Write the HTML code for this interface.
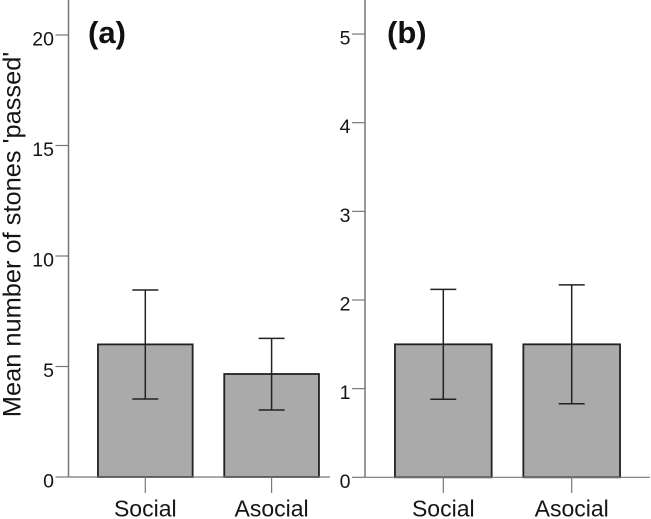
<!DOCTYPE html>
<html>
<head>
<meta charset="utf-8">
<style>
html,body{margin:0;padding:0;background:#fff;width:651px;height:519px;overflow:hidden}
svg{display:block}
text{font-family:"Liberation Sans",Arial,sans-serif;fill:#151515}
</style>
</head>
<body>
<svg id="chart" xmlns="http://www.w3.org/2000/svg" width="651" height="519" viewBox="0 0 651 519">
  <text transform="translate(20.5,234.5) rotate(-90)" text-anchor="middle" font-size="25.4">Mean number of stones 'passed'</text>
  <text x="88" y="43" font-size="31" font-weight="bold" style="fill:#111">(a)</text>
  <text x="387" y="43" font-size="31" font-weight="bold" style="fill:#111">(b)</text>
</svg>
<script>
const categories = ['Social', 'Asocial'];
const meansA = [6.0, 4.66];
const upperA = [8.46, 6.27];
const lowerA = [3.53, 3.03];
const ticksA = [0, 5, 10, 15, 20];
const meansB = [1.5, 1.5];
const upperB = [2.12, 2.17];
const lowerB = [0.88, 0.83];
const ticksB = [0, 1, 2, 3, 4, 5];

const svg = document.getElementById('chart');
const NS = 'http://www.w3.org/2000/svg';

function line(x1, y1, x2, y2, stroke, width, name) {
  const el = document.createElementNS(NS, 'line');
  el.setAttribute('x1', x1);
  el.setAttribute('y1', y1);
  el.setAttribute('x2', x2);
  el.setAttribute('y2', y2);
  el.setAttribute('stroke', stroke);
  el.setAttribute('stroke-width', width);
  
  
  svg.appendChild(el);
}

function label(x, y, str, anchor, name) {
  const el = document.createElementNS(NS, 'text');
  el.setAttribute('x', x);
  el.setAttribute('y', y);
  el.setAttribute('text-anchor', anchor);
  el.setAttribute('font-size', name.indexOf('x-') === 0 ? 23 : 19.5);
  el.textContent = str;
  
  
  svg.appendChild(el);
}

function drawPanel(p, means, upper, lower, ticks) {
  const yOf = v => p.baseY - v * p.unit;
  const xOf = i => p.firstCenter + i * p.step;

  means.forEach((m, i) => {
    const r = document.createElementNS(NS, 'rect');
    r.setAttribute('x', xOf(i) - p.barW / 2);
    r.setAttribute('y', yOf(m));
    r.setAttribute('width', p.barW);
    r.setAttribute('height', p.baseY - yOf(m));
    r.setAttribute('fill', '#aaaaaa');
    r.setAttribute('stroke', '#222');
    r.setAttribute('stroke-width', 1.8);
    
    
    svg.appendChild(r);

    const c = xOf(i);
    line(c, yOf(upper[i]), c, yOf(lower[i]), '#222', 1.5, 'error-bar-' + p.id + '-' + categories[i].toLowerCase());
    line(c - 13, yOf(upper[i]), c + 13, yOf(upper[i]), '#222', 1.5, 'error-cap-upper-' + p.id + '-' + categories[i].toLowerCase());
    line(c - 13, yOf(lower[i]), c + 13, yOf(lower[i]), '#222', 1.5, 'error-cap-lower-' + p.id + '-' + categories[i].toLowerCase());
    line(c, p.baseY, c, 493, '#777', 1.2, 'x-tick-' + p.id + '-' + categories[i].toLowerCase());
    label(c, 516.5, categories[i], 'middle', 'x-label-' + p.id + '-' + categories[i].toLowerCase());
  });

  line(p.axisX, 0, p.axisX, p.baseY, '#777', 1.5, 'y-axis-' + p.id);
  line(p.axisX, p.baseY, p.endX, p.baseY, '#777', 1.2, 'x-axis-' + p.id);

  ticks.forEach(t => {
    line(p.axisX - 13, yOf(t), p.axisX, yOf(t), '#777', 1.2, 'y-tick-' + p.id + '-' + t);
    label(p.axisX - 14.5, yOf(t) + 10.5, String(t), 'end', 'y-label-' + p.id + '-' + t);
  });
}

drawPanel({id: 'a', axisX: 68.5, endX: 330, baseY: 477, unit: 22.1, firstCenter: 145.3, step: 126.3, barW: 94.7}, meansA, upperA, lowerA, ticksA);
drawPanel({id: 'b', axisX: 365, endX: 650, baseY: 477.3, unit: 88.65, firstCenter: 443.3, step: 128.4, barW: 96.7}, meansB, upperB, lowerB, ticksB);
</script>
</body>
</html>
